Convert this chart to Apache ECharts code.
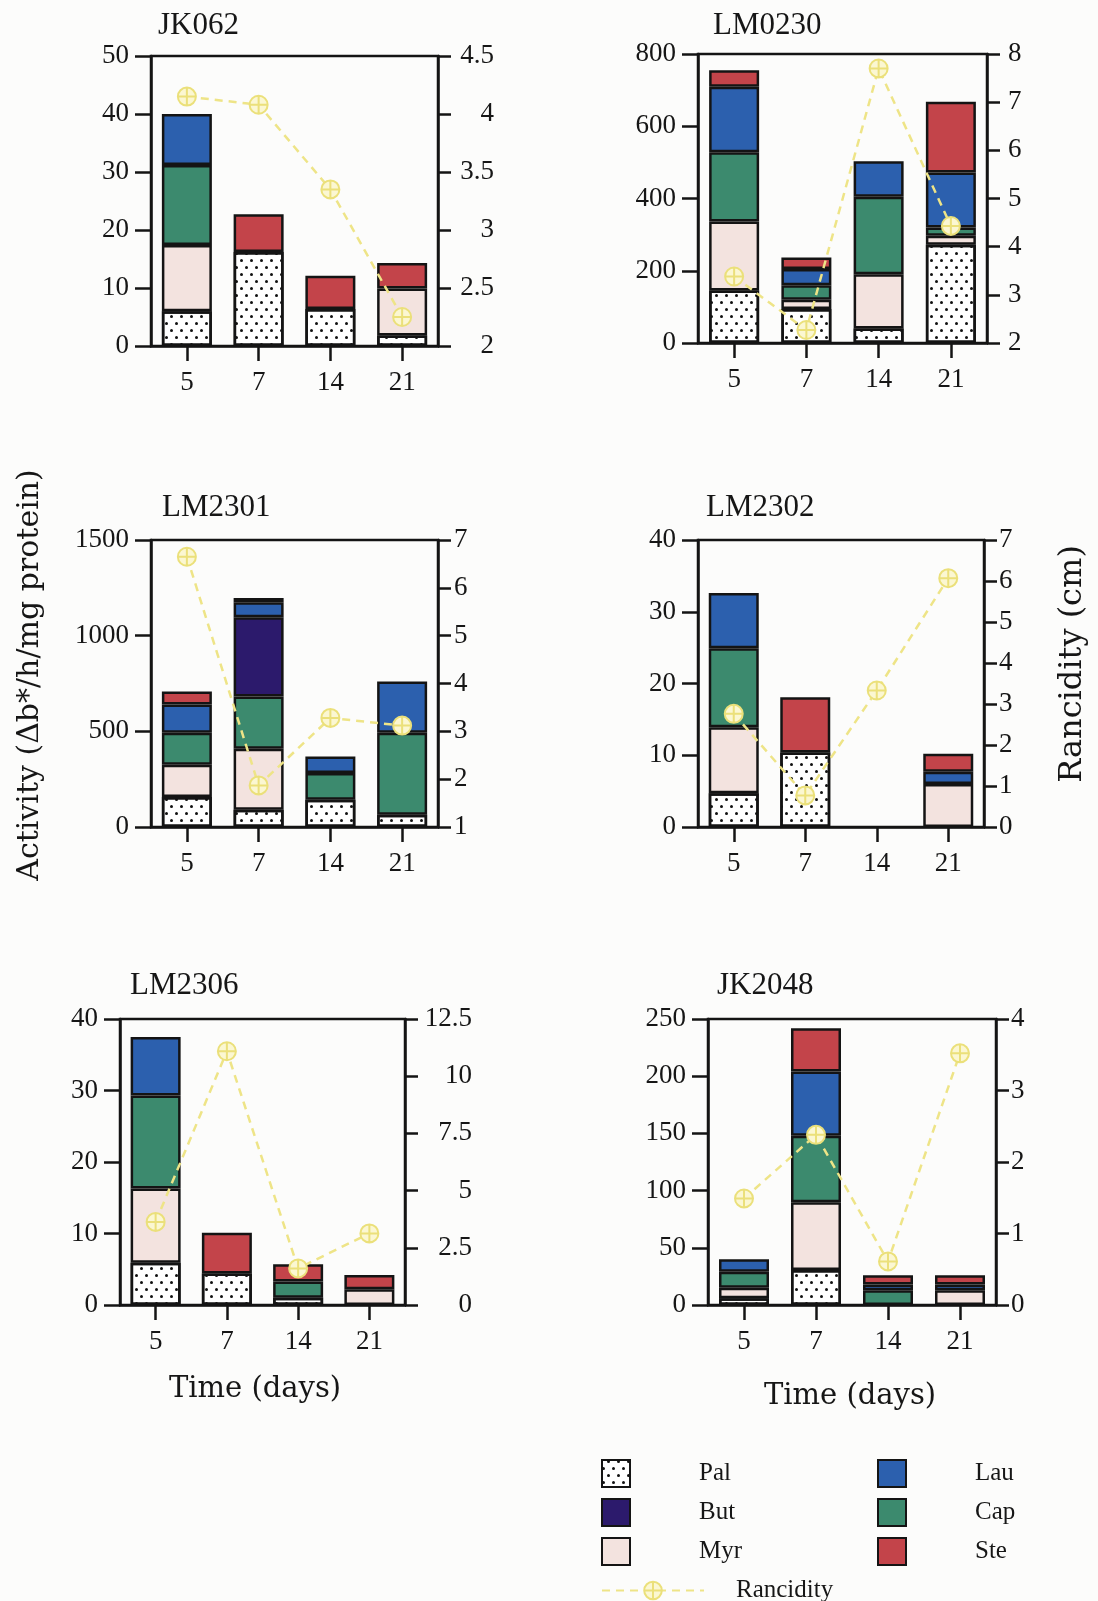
<!DOCTYPE html>
<html>
<head>
<meta charset="utf-8">
<script src="https://cdn.jsdelivr.net/npm/echarts@6/dist/echarts.min.js"></script>
<style>
  html, body { margin: 0; padding: 0; background: #fcfcfb; }
  #chart { width: 1098px; height: 1601px; }
</style>
</head>
<body>
<div id="chart"></div>
<script>
// Sampling days shared by every panel
const days = ['5', '7', '14', '21'];

// Lipase activity per substrate (stacked), '-' = not detected
// JK062
const jk062Pal = [6, 16.2, 6.4, 1.8];
const jk062Myr = [11.4, '-', '-', 8.1];
const jk062Cap = [13.8, '-', '-', '-'];
const jk062But = ['-', '-', '-', '-'];
const jk062Lau = [8.8, '-', '-', '-'];
const jk062Ste = ['-', 6.5, 5.7, 4.4];
const jk062Ranc = [4.15, 4.08, 3.35, 2.25];

// LM0230
const lm0230Pal = [145, 94, 40, 272];
const lm0230Myr = [191, 26, 150, 25];
const lm0230Cap = [192, 40, 215, 23];
const lm0230But = ['-', '-', '-', '-'];
const lm0230Lau = [181, 45, 98, 152];
const lm0230Ste = [46, 32, '-', 196];
const lm0230Ranc = [3.38, 2.27, 7.7, 4.43];

// LM2301
const lm2301Pal = [157, 90, 143, 64];
const lm2301Myr = [168, 319, '-', '-'];
const lm2301Cap = [167, 273, 139, 428];
const lm2301But = ['-', 414, '-', '-'];
const lm2301Lau = [148, 79, 87, 268];
const lm2301Ste = [68, 22, '-', '-'];
const lm2301Ranc = [6.65, 1.87, 3.28, 3.12];

// LM2302
const lm2302Pal = [4.7, 10.4, '-', '-'];
const lm2302Myr = [9.2, '-', '-', 6.0];
const lm2302Cap = [11.0, '-', '-', '-'];
const lm2302But = ['-', '-', '-', '-'];
const lm2302Lau = [7.7, '-', '-', 1.7];
const lm2302Ste = ['-', 7.7, '-', 2.5];
const lm2302Ranc = [2.76, 0.77, 3.33, 6.07];

// LM2306
const lm2306Pal = [5.9, 4.4, 1.0, '-'];
const lm2306Myr = [10.4, '-', '-', 2.2];
const lm2306Cap = [13.0, '-', 2.3, '-'];
const lm2306But = ['-', '-', '-', '-'];
const lm2306Lau = [8.2, '-', '-', '-'];
const lm2306Ste = ['-', 5.7, 2.4, 2.0];
const lm2306Ranc = [3.63, 11.09, 1.6, 3.13];

// JK2048
const jk2048Pal = [6, 30.6, '-', '-'];
const jk2048Myr = [9, 59.2, '-', 13];
const jk2048Cap = [14, 58.2, 13, '-'];
const jk2048But = ['-', '-', '-', '-'];
const jk2048Lau = [11, 56, 5, 5];
const jk2048Ste = ['-', 38, 8, 8];
const jk2048Ranc = [1.49, 2.38, 0.61, 3.52];

// Axis ranges [min, max, interval]
const activityAxes = [[0, 50, 10], [0, 800, 200], [0, 1500, 500], [0, 40, 10], [0, 40, 10], [0, 250, 50]];
const rancidityAxes = [[2, 4.5, 0.5], [2, 8, 1], [1, 7, 1], [0, 7, 1], [0, 12.5, 2.5], [0, 4, 1]];
const strainNames = ['JK062', 'LM0230', 'LM2301', 'LM2302', 'LM2306', 'JK2048'];

const panels = [
  { Pal: jk062Pal, Myr: jk062Myr, Cap: jk062Cap, But: jk062But, Lau: jk062Lau, Ste: jk062Ste, ranc: jk062Ranc },
  { Pal: lm0230Pal, Myr: lm0230Myr, Cap: lm0230Cap, But: lm0230But, Lau: lm0230Lau, Ste: lm0230Ste, ranc: lm0230Ranc },
  { Pal: lm2301Pal, Myr: lm2301Myr, Cap: lm2301Cap, But: lm2301But, Lau: lm2301Lau, Ste: lm2301Ste, ranc: lm2301Ranc },
  { Pal: lm2302Pal, Myr: lm2302Myr, Cap: lm2302Cap, But: lm2302But, Lau: lm2302Lau, Ste: lm2302Ste, ranc: lm2302Ranc },
  { Pal: lm2306Pal, Myr: lm2306Myr, Cap: lm2306Cap, But: lm2306But, Lau: lm2306Lau, Ste: lm2306Ste, ranc: lm2306Ranc },
  { Pal: jk2048Pal, Myr: jk2048Myr, Cap: jk2048Cap, But: jk2048But, Lau: jk2048Lau, Ste: jk2048Ste, ranc: jk2048Ranc }
];

// Stacking order, bottom to top
const stackOrder = ['Pal', 'Myr', 'Cap', 'But', 'Lau', 'Ste'];

// ---- layout & style ----
const grids = [
  { x: 151, y: 56,   w: 287, h: 290, title: [158, 10],  rMargin: 16, rWidth: 40 },
  { x: 698, y: 54,   w: 289, h: 289, title: [713, 10],  rMargin: 21, rWidth: 0 },
  { x: 151, y: 540,  w: 287, h: 287, title: [162, 492], rMargin: 16, rWidth: 0 },
  { x: 698, y: 540,  w: 286, h: 287, title: [706, 492], rMargin: 15, rWidth: 0 },
  { x: 120, y: 1019, w: 285, h: 286, title: [130, 970], rMargin: 15, rWidth: 52 },
  { x: 708, y: 1019, w: 288, h: 286, title: [717, 970], rMargin: 15, rWidth: 0 }
];

const INK = '#141414';
const TXT = '#161616';
const NUM_FONT = 'Liberation Serif';
const NUM_SIZE = 27;
const fills = { Pal: '#ffffff', But: '#2c1a6c', Myr: '#f3e3df', Cap: '#3c8a6e', Lau: '#2c60ae', Ste: '#c3444a' };
const palDots = {
  symbol: 'circle', symbolSize: 1, color: '#111',
  dashArrayX: [[2.8, 6.2], [0, 4.5, 2.8, 1.7]],
  dashArrayY: [2.8, 3.6], rotation: 0
};
const yellowLine = '#eee487';
const ringCross = 'path://M2,12 A10,10 0 1,1 22,12 A10,10 0 1,1 2,12 Z M12,2 L12,22 M2,12 L22,12';

const axisLine = { show: true, lineStyle: { color: INK, width: 2.5 } };
const plainNumber = v => String(v);

const option = {
  backgroundColor: '#fcfcfb',
  animation: false,
  title: grids.map((g, i) => ({
    text: strainNames[i], left: g.title[0], top: g.title[1], padding: 0,
    textStyle: { fontFamily: NUM_FONT, fontSize: 31, fontWeight: 'normal', color: TXT }
  })),
  grid: grids.map(g => ({
    left: g.x, top: g.y, width: g.w, height: g.h,
    show: true, borderColor: INK, borderWidth: 2.5, backgroundColor: 'transparent'
  })),
  xAxis: grids.map((g, i) => ({
    type: 'category', gridIndex: i, data: days,
    axisLine: axisLine,
    axisTick: { show: true, alignWithLabel: true, length: 15, lineStyle: { color: INK, width: 2.5 } },
    axisLabel: { margin: 23, fontFamily: NUM_FONT, fontSize: NUM_SIZE, color: TXT },
    splitLine: { show: false }
  })),
  yAxis: [],
  legend: [
    {
      data: ['Pal', 'But', 'Myr'], orient: 'vertical', left: 596, top: 1454,
      itemWidth: 28, itemHeight: 27, itemGap: 10, icon: 'rect', selectedMode: false,
      textStyle: { fontFamily: NUM_FONT, fontSize: 25, lineHeight: 27, color: TXT, padding: [0, 0, 0, 64] }
    },
    {
      data: ['Lau', 'Cap', 'Ste'], orient: 'vertical', left: 872, top: 1454,
      itemWidth: 28, itemHeight: 27, itemGap: 10, icon: 'rect', selectedMode: false,
      textStyle: { fontFamily: NUM_FONT, fontSize: 25, lineHeight: 27, color: TXT, padding: [0, 0, 0, 64] }
    },
    {
      data: ['Rancidity'], left: 596, top: 1572,
      itemWidth: 102, itemHeight: 22, selectedMode: false,
      textStyle: { fontFamily: NUM_FONT, fontSize: 25, lineHeight: 27, color: TXT, padding: [0, 0, 0, 27] }
    }
  ],
  graphic: [
    { type: 'text', x: 30, y: 675, rotation: Math.PI / 2,
      style: { text: 'Activity (Δb*/h/mg protein)', font: '30px "DejaVu Serif"', fill: TXT,
               align: 'center', verticalAlign: 'middle', textAlign: 'center', textVerticalAlign: 'middle' } },
    { type: 'text', x: 1073, y: 664, rotation: Math.PI / 2,
      style: { text: 'Rancidity (cm)', font: '32px "DejaVu Serif"', fill: TXT,
               align: 'center', verticalAlign: 'middle', textAlign: 'center', textVerticalAlign: 'middle' } },
    { type: 'text', x: 255, y: 1389,
      style: { text: 'Time (days)', font: '29px "DejaVu Serif"', fill: TXT,
               align: 'center', verticalAlign: 'middle', textAlign: 'center', textVerticalAlign: 'middle' } },
    { type: 'text', x: 850, y: 1396,
      style: { text: 'Time (days)', font: '29px "DejaVu Serif"', fill: TXT,
               align: 'center', verticalAlign: 'middle', textAlign: 'center', textVerticalAlign: 'middle' } }
  ],
  series: []
};

grids.forEach((g, i) => {
  const [lMin, lMax, lInt] = activityAxes[i];
  const [rMin, rMax, rInt] = rancidityAxes[i];
  option.yAxis.push({
    type: 'value', gridIndex: i, position: 'left', min: lMin, max: lMax, interval: lInt,
    axisLine: axisLine,
    axisTick: { show: true, length: 16, lineStyle: { color: INK, width: 2.5 } },
    axisLabel: { margin: 22, fontFamily: NUM_FONT, fontSize: NUM_SIZE, color: TXT, formatter: plainNumber },
    splitLine: { show: false }
  });
  const rightLabel = g.rWidth
    ? { margin: g.rMargin, formatter: v => '{v|' + v + '}',
        rich: { v: { width: g.rWidth, align: 'right', fontFamily: NUM_FONT, fontSize: NUM_SIZE, color: TXT } } }
    : { margin: g.rMargin, fontFamily: NUM_FONT, fontSize: NUM_SIZE, color: TXT, formatter: plainNumber };
  option.yAxis.push({
    type: 'value', gridIndex: i, position: 'right', min: rMin, max: rMax, interval: rInt,
    axisLine: axisLine,
    axisTick: { show: true, length: 13, lineStyle: { color: INK, width: 2.5 } },
    axisLabel: rightLabel,
    splitLine: { show: false }
  });

  stackOrder.forEach(name => {
    const itemStyle = { color: fills[name], borderColor: INK, borderWidth: 2.5 };
    if (name === 'Pal') itemStyle.decal = palDots;
    option.series.push({
      type: 'bar', name: name, xAxisIndex: i, yAxisIndex: 2 * i, stack: 'activity' + i,
      barWidth: 50, data: panels[i][name], itemStyle: itemStyle,
      emphasis: { disabled: true }, z: 2
    });
  });

  option.series.push({
    type: 'line', name: 'Rancidity', xAxisIndex: i, yAxisIndex: 2 * i + 1,
    data: panels[i].ranc, symbol: ringCross, symbolSize: 18,
    lineStyle: { color: yellowLine, width: 2.5, type: [8, 6] },
    itemStyle: { color: '#fbf7d2', borderColor: '#ebe07a', borderWidth: 2 },
    emphasis: { disabled: true }, z: 5
  });
});

const chart = echarts.init(document.getElementById('chart'), null, { renderer: 'canvas' });
chart.setOption(option);
</script>
</body>
</html>
